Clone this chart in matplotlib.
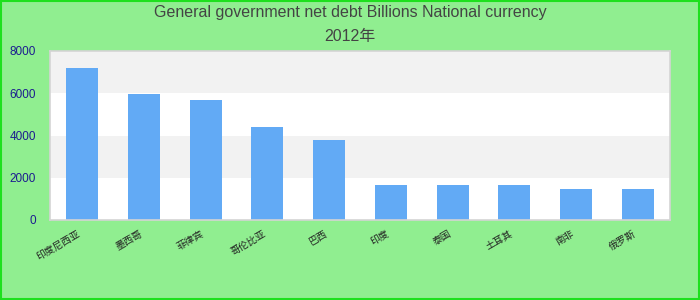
import matplotlib
matplotlib.use('Agg')
import matplotlib.pyplot as plt
from matplotlib.patches import Rectangle
from typing import List

TITLE_LINE_1 = 'General government net debt Billions National currency'
TITLE_LINE_2 = '2012年'
COUNTRIES = ['印度尼西亚', '墨西哥', '菲律宾', '哥伦比亚', '巴西',
             '印度', '泰国', '土耳其', '南非', '俄罗斯']
NET_DEBT = [7200, 5960, 5680, 4400, 3790, 1660, 1660, 1660, 1470, 1470]
Y_TICKS = [0, 2000, 4000, 6000, 8000]

FONTS = ['Liberation Sans', 'Noto Sans CJK SC', 'DejaVu Sans']
BAR_COLOR = '#62aaf5'
BG_COLOR = '#90ee90'
BAND_COLOR = '#f2f2f2'


def draw_chart(title1: str, title2: str, labels: List[str], values: List[float]):
    plt.rcParams['font.family'] = FONTS
    fig = plt.figure(figsize=(7, 3), dpi=100, facecolor=BG_COLOR)
    # outer frame of the figure
    fig.patches.append(Rectangle((0.001, 0.002), 0.997, 0.995, transform=fig.transFigure,
                                 fill=False, edgecolor='#1ee01e', linewidth=1.5))
    fig.text(0.5, 1 - 13 / 300, title1, ha='center', va='center', fontsize=11.5, color='#444444')
    fig.text(0.5, 1 - 37 / 300, title2, ha='center', va='center', fontsize=11.5, color='#444444')

    ax = fig.add_axes([50 / 700, 80 / 300, 620 / 700, 169 / 300])
    ax.set_facecolor('white')
    for low in Y_TICKS[1::2]:
        ax.axhspan(low, low + 2000, color=BAND_COLOR, zorder=0, linewidth=0)
    positions = list(range(len(labels)))
    ax.bar(positions, values, width=0.52, color=BAR_COLOR, zorder=2)
    ax.set_xlim(-0.52, len(labels) - 0.48)
    ax.set_ylim(0, 8000)
    ax.set_yticks(Y_TICKS)
    ax.set_yticklabels([str(t) for t in Y_TICKS], fontsize=8.5, color='#1c1c8f')
    ax.set_xticks(positions)
    ax.set_xticklabels(labels, fontsize=7, rotation=30, ha='right', color='#222222')
    ax.tick_params(axis='both', length=0)
    ax.tick_params(axis='y', pad=10)
    ax.tick_params(axis='x', pad=6)
    for spine in ax.spines.values():
        spine.set_color('#d4d4d4')
        spine.set_linewidth(1.2)
    fig.savefig('out.png', dpi=100, facecolor=BG_COLOR)


draw_chart(TITLE_LINE_1, TITLE_LINE_2, COUNTRIES, NET_DEBT)
